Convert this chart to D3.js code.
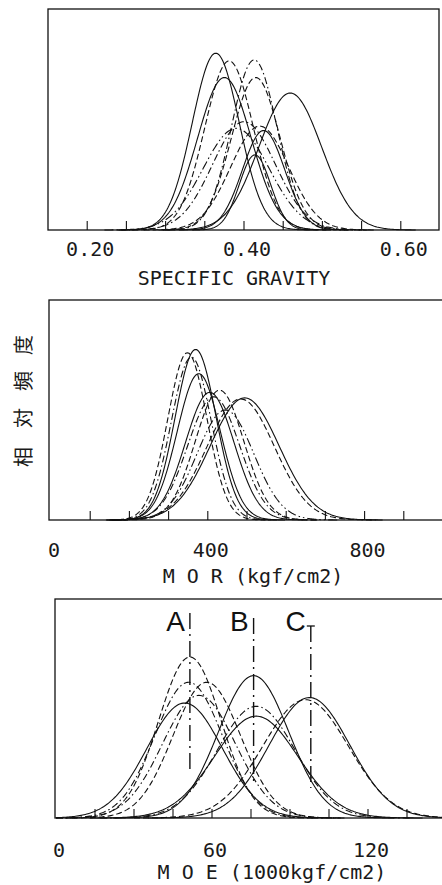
<!DOCTYPE html>
<html>
<head>
<meta charset="utf-8">
<script src="https://cdn.jsdelivr.net/npm/d3@7/dist/d3.min.js"></script>
<style>
  html, body { margin: 0; padding: 0; background: #fff; }
  svg { display: block; }
  .tick-label, .axis-title { font-family: "DejaVu Sans Mono", monospace; fill: #1a1a1a; }
</style>
</head>
<body>
<svg id="chart" width="442" height="885"></svg>
<script>
// ---- Specific gravity: fitted normal curves (mean, sd, relative peak, line style)
const sgMean  = [0.364, 0.381, 0.413, 0.375, 0.415, 0.459, 0.400, 0.420, 0.390, 0.414, 0.425];
const sgSd    = [0.030, 0.031, 0.029, 0.034, 0.031, 0.040, 0.040, 0.037, 0.042, 0.020, 0.027];
const sgPeak  = [0.80, 0.765, 0.77, 0.69, 0.69, 0.62, 0.49, 0.47, 0.46, 0.34, 0.45];
const sgStyle = ["solid", "dash", "dashdot", "solid", "dash", "solid", "dashdot", "dash", "dashdot2", "solid", "solid"];
const sgTicks = [0.20, 0.25, 0.30, 0.35, 0.40, 0.45, 0.50, 0.55, 0.60];
const sgLabels = [0.20, 0.40, 0.60];

// ---- MOR (kgf/cm2)
const morMean  = [369, 348, 358, 377, 405, 430, 415, 494, 484, 445];
const morSd    = [52, 50, 51, 55, 62, 62, 66, 88, 86, 72];
const morPeak  = [0.775, 0.76, 0.74, 0.665, 0.58, 0.59, 0.56, 0.555, 0.55, 0.50];
const morStyle = ["solid", "dash", "dashdot", "solid", "solid", "dash", "dashdot", "solid", "dash", "dashdot2"];
const morTicks = [100, 200, 300, 400, 500, 600, 700, 800, 900];
const morLabels = [0, 400, 800];

// ---- MOE (1000kgf/cm2)
const moeMean  = [51.5, 58, 51, 55, 49.5, 76, 77, 77, 97.5, 96];
const moeSd    = [12, 13, 13, 14, 14.5, 13.5, 15, 16, 15.5, 16.5];
const moePeak  = [0.735, 0.62, 0.62, 0.56, 0.525, 0.65, 0.51, 0.465, 0.55, 0.54];
const moeStyle = ["dash", "dash", "dashdot", "dashdot", "solid", "solid", "dashdot", "solid", "solid", "dash"];
const moeTicks = [15, 30, 45, 60, 75, 90, 105, 120, 135];
const moeLabels = [0, 60, 120];
const groupNames = ["A", "B", "C"];
const groupMeans = [51.5, 76, 98];

const dashes = {
  solid: null,
  dash: "6,3",
  dashdot: "7,3,1.5,3",
  dashdot2: "9,3,1.5,3,1.5,3"
};

const svg = d3.select("#chart");

function zip(means, sds, peaks, styles) {
  return means.map((m, i) => ({ mean: m, sd: sds[i], peak: peaks[i], style: styles[i] }));
}

function panel(cfg) {
  const x = d3.scaleLinear().domain(cfg.domain).range([cfg.x0, cfg.x1]);
  const y = d3.scaleLinear().domain([0, 1]).range([cfg.bottom, cfg.top]);
  const g = svg.append("g");

  // frame
  g.append("rect")
    .attr("x", cfg.left).attr("y", cfg.top)
    .attr("width", cfg.right - cfg.left).attr("height", cfg.bottom - cfg.top)
    .attr("fill", "none").attr("stroke", "#111").attr("stroke-width", 1.3);

  // inward tick marks on the bottom edge
  g.selectAll("line.tk").data(cfg.ticks).join("line")
    .attr("class", "tk")
    .attr("x1", d => x(d)).attr("x2", d => x(d))
    .attr("y1", cfg.bottom).attr("y2", cfg.bottom - 9)
    .attr("stroke", "#111").attr("stroke-width", 1.1);

  // normal curves
  const curves = zip(cfg.mean, cfg.sd, cfg.peak, cfg.style);
  const line = d3.line().x(d => x(d[0])).y(d => y(d[1]));
  g.selectAll("path.curve").data(curves).join("path")
    .attr("class", "curve")
    .attr("d", c => {
      const lo = Math.max(cfg.domain[0], c.mean - 4 * c.sd);
      const hi = Math.min(cfg.domain[1], c.mean + 4 * c.sd);
      const pts = d3.range(0, 201).map(i => {
        const v = lo + (hi - lo) * i / 200;
        const z = (v - c.mean) / c.sd;
        return [v, c.peak * Math.exp(-0.5 * z * z)];
      });
      return line(pts);
    })
    .attr("fill", "none")
    .attr("stroke", "#111")
    .attr("stroke-width", 1.1)
    .attr("stroke-dasharray", c => dashes[c.style]);

  // tick labels
  g.selectAll("text.tick-label").data(cfg.labels).join("text")
    .attr("class", "tick-label")
    .attr("x", d => x(d) + 3)
    .attr("y", cfg.labelY)
    .attr("text-anchor", "middle")
    .attr("font-size", 20)
    .text(cfg.fmt);

  g.append("text")
    .attr("class", "axis-title")
    .attr("x", cfg.titleX)
    .attr("y", cfg.titleY)
    .attr("text-anchor", "middle")
    .attr("font-size", 20)
    .text(cfg.title);

  return { x, y, g };
}

panel({
  domain: [0.15, 0.65], x0: 48, x1: 440,
  left: 48, right: 439, top: 9, bottom: 230,
  mean: sgMean, sd: sgSd, peak: sgPeak, style: sgStyle,
  ticks: sgTicks, labels: sgLabels, fmt: d => d.toFixed(2),
  labelY: 256, title: "SPECIFIC GRAVITY", titleX: 234, titleY: 285
});

panel({
  domain: [0, 1000], x0: 51, x1: 443,
  left: 49, right: 446, top: 300, bottom: 520,
  mean: morMean, sd: morSd, peak: morPeak, style: morStyle,
  ticks: morTicks, labels: morLabels, fmt: d => String(d),
  labelY: 557, title: "M O R (kgf/cm2)", titleX: 253, titleY: 583
});

const p3 = panel({
  domain: [0, 150], x0: 56, x1: 446,
  left: 55, right: 448, top: 599, bottom: 818,
  mean: moeMean, sd: moeSd, peak: moePeak, style: moeStyle,
  ticks: moeTicks, labels: moeLabels, fmt: d => String(d),
  labelY: 857, title: "M O E (1000kgf/cm2)", titleX: 272, titleY: 879
});

// group mean markers A, B, C
const groups = groupNames.map((n, i) => ({ name: n, mean: groupMeans[i], i }));
const lineTop = [613, 618, 626];
const lineBottom = [773, 782, 788];
p3.g.selectAll("line.gm").data(groups).join("line")
  .attr("class", "gm")
  .attr("x1", d => p3.x(d.mean)).attr("x2", d => p3.x(d.mean))
  .attr("y1", d => lineTop[d.i]).attr("y2", d => lineBottom[d.i])
  .attr("stroke", "#111").attr("stroke-width", 1.4)
  .attr("stroke-dasharray", "16,5,2,5");
p3.g.selectAll("text.gl").data(groups).join("text")
  .attr("class", "gl")
  .attr("x", d => p3.x(d.mean) - 5)
  .attr("y", 631)
  .attr("text-anchor", "end")
  .attr("font-family", "Liberation Sans, Arial, sans-serif")
  .attr("font-size", 28)
  .attr("fill", "#111")
  .text(d => d.name);
// small cap on the C marker
p3.g.append("line")
  .attr("x1", p3.x(groupMeans[2]) - 4).attr("x2", p3.x(groupMeans[2]) + 4)
  .attr("y1", 626).attr("y2", 626)
  .attr("stroke", "#111").attr("stroke-width", 1.3);

// vertical axis title (relative frequency)
const yTitle = "相対頻度".split("");
const charY = [457, 418, 381, 345];
svg.selectAll("text.ych").data(yTitle).join("text")
  .attr("class", "ych")
  .attr("transform", (d, i) => `translate(22,${charY[i]}) rotate(-90)`)
  .attr("text-anchor", "middle")
  .attr("dominant-baseline", "central")
  .attr("font-family", "Noto Sans CJK JP, sans-serif")
  .attr("font-size", 20)
  .attr("fill", "#1a1a1a")
  .text(d => d);
</script>
</body>
</html>
